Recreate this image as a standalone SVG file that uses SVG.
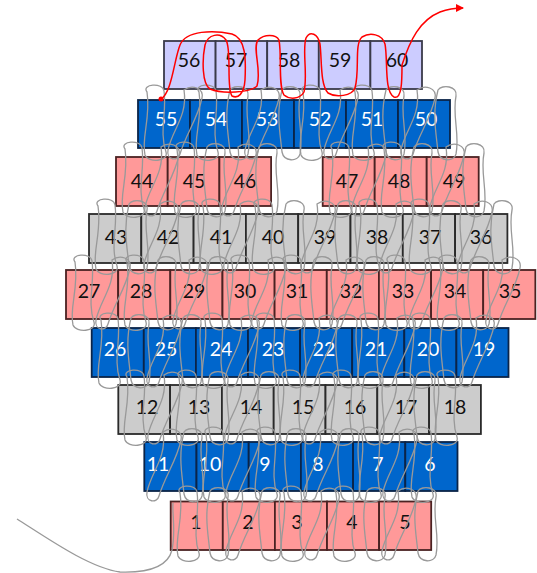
<svg xmlns="http://www.w3.org/2000/svg" xmlns:xlink="http://www.w3.org/1999/xlink" width="537" height="573" viewBox="0 0 537 573">
<style>
.b rect{stroke-width:1.8}
.lav{fill:#ccccff;stroke:#3a3a4a}
.blu{fill:#0066cc;stroke:#0b2448}
.pnk{fill:#ff9999;stroke:#4a2222}
.gry{fill:#cccccc;stroke:#2a2a2a}
text{font-family:Lato,"Open Sans","Liberation Sans",sans-serif;font-size:19.5px;text-anchor:middle}
.dk{fill:#111}
.wt{fill:#ffffff}
.th{fill:none;stroke:#999999;stroke-width:1.3}
.rd{fill:none;stroke:#ff0000;stroke-width:1.5}
</style>
<defs>
<path id="la" d="M-10,-8 C-16,-16 6,-18 7,-9 C10,12 2,32 9,52 C12,62 -9,63 -12,55 C-16,38 -6,18 -10,-8 Z"/>
<path id="lb" d="M-6,-10 C-2,-16 14,-14 12,-4 C8,16 16,34 12,54 C10,62 -4,62 -6,52 C-8,32 -12,14 -6,-10 Z"/>
<path id="lc" d="M-4,-10 C4,-16 16,-12 14,-2 C10,18 -2,34 -8,54 C-10,62 -22,60 -20,50 C-16,30 0,16 -4,-10 Z"/>
<marker id="ah" markerWidth="8" markerHeight="8" refX="7" refY="4" orient="auto" markerUnits="userSpaceOnUse"><path d="M0,0 L8,4 L0,8 Z" fill="#ff0000"/></marker>
</defs>
<g id="row1" class="b">
<g id="b56"><rect class="lav" x="164" y="41" width="51.6" height="48"/><text class="dk" x="189" y="67">56</text></g>
<g id="b57"><rect class="lav" x="215.6" y="41" width="51.6" height="48"/><text class="dk" x="236" y="67">57</text></g>
<g id="b58"><rect class="lav" x="267.2" y="41" width="51.6" height="48"/><text class="dk" x="289" y="67">58</text></g>
<g id="b59"><rect class="lav" x="318.8" y="41" width="51.6" height="48"/><text class="dk" x="340" y="67">59</text></g>
<g id="b60"><rect class="lav" x="370.4" y="41" width="51.6" height="48"/><text class="dk" x="397" y="67">60</text></g>
</g>
<g id="row2" class="b">
<g id="b55"><rect class="blu" x="138" y="100" width="52" height="48"/><text class="wt" x="166" y="126">55</text></g>
<g id="b54"><rect class="blu" x="190" y="100" width="52" height="48"/><text class="wt" x="216" y="126">54</text></g>
<g id="b53"><rect class="blu" x="242" y="100" width="52" height="48"/><text class="wt" x="267" y="126">53</text></g>
<g id="b52"><rect class="blu" x="294" y="100" width="52" height="48"/><text class="wt" x="320" y="126">52</text></g>
<g id="b51"><rect class="blu" x="346" y="100" width="52" height="48"/><text class="wt" x="372" y="126">51</text></g>
<g id="b50"><rect class="blu" x="398" y="100" width="52" height="48"/><text class="wt" x="426" y="126">50</text></g>
</g>
<g id="row3" class="b">
<g id="b44"><rect class="pnk" x="116" y="157" width="51.7" height="49"/><text class="dk" x="142" y="188">44</text></g>
<g id="b45"><rect class="pnk" x="167.7" y="157" width="51.7" height="49"/><text class="dk" x="194" y="188">45</text></g>
<g id="b46"><rect class="pnk" x="219.4" y="157" width="51.7" height="49"/><text class="dk" x="245" y="188">46</text></g>
<g id="b47"><rect class="pnk" x="322.7" y="157" width="52" height="49"/><text class="dk" x="347" y="188">47</text></g>
<g id="b48"><rect class="pnk" x="374.7" y="157" width="52" height="49"/><text class="dk" x="399" y="188">48</text></g>
<g id="b49"><rect class="pnk" x="426.7" y="157" width="52" height="49"/><text class="dk" x="454" y="188">49</text></g>
</g>
<g id="row4" class="b">
<g id="b43"><rect class="gry" x="89" y="214" width="52.3" height="49"/><text class="dk" x="116" y="244">43</text></g>
<g id="b42"><rect class="gry" x="141.3" y="214" width="52.3" height="49"/><text class="dk" x="168" y="244">42</text></g>
<g id="b41"><rect class="gry" x="193.6" y="214" width="52.3" height="49"/><text class="dk" x="221" y="244">41</text></g>
<g id="b40"><rect class="gry" x="245.9" y="214" width="52.3" height="49"/><text class="dk" x="273" y="244">40</text></g>
<g id="b39"><rect class="gry" x="298.2" y="214" width="52.3" height="49"/><text class="dk" x="325" y="244">39</text></g>
<g id="b38"><rect class="gry" x="350.5" y="214" width="52.3" height="49"/><text class="dk" x="377" y="244">38</text></g>
<g id="b37"><rect class="gry" x="402.8" y="214" width="52.3" height="49"/><text class="dk" x="430" y="244">37</text></g>
<g id="b36"><rect class="gry" x="455.1" y="214" width="52.3" height="49"/><text class="dk" x="481" y="244">36</text></g>
</g>
<g id="row5" class="b">
<g id="b27"><rect class="pnk" x="66" y="270" width="52.15" height="49"/><text class="dk" x="89" y="298">27</text></g>
<g id="b28"><rect class="pnk" x="118.2" y="270" width="52.15" height="49"/><text class="dk" x="141" y="298">28</text></g>
<g id="b29"><rect class="pnk" x="170.3" y="270" width="52.15" height="49"/><text class="dk" x="194" y="298">29</text></g>
<g id="b30"><rect class="pnk" x="222.5" y="270" width="52.15" height="49"/><text class="dk" x="245" y="298">30</text></g>
<g id="b31"><rect class="pnk" x="274.6" y="270" width="52.15" height="49"/><text class="dk" x="297" y="298">31</text></g>
<g id="b32"><rect class="pnk" x="326.8" y="270" width="52.15" height="49"/><text class="dk" x="351" y="298">32</text></g>
<g id="b33"><rect class="pnk" x="378.9" y="270" width="52.15" height="49"/><text class="dk" x="403" y="298">33</text></g>
<g id="b34"><rect class="pnk" x="431.1" y="270" width="52.15" height="49"/><text class="dk" x="455" y="298">34</text></g>
<g id="b35"><rect class="pnk" x="483.2" y="270" width="52.15" height="49"/><text class="dk" x="510" y="298">35</text></g>
</g>
<g id="row6" class="b">
<g id="b26"><rect class="blu" x="91.7" y="328" width="52.1" height="49"/><text class="wt" x="115" y="356">26</text></g>
<g id="b25"><rect class="blu" x="143.8" y="328" width="52.1" height="49"/><text class="wt" x="166" y="356">25</text></g>
<g id="b24"><rect class="blu" x="195.9" y="328" width="52.1" height="49"/><text class="wt" x="221" y="356">24</text></g>
<g id="b23"><rect class="blu" x="248" y="328" width="52.1" height="49"/><text class="wt" x="273" y="356">23</text></g>
<g id="b22"><rect class="blu" x="300.1" y="328" width="52.1" height="49"/><text class="wt" x="324" y="356">22</text></g>
<g id="b21"><rect class="blu" x="352.2" y="328" width="52.1" height="49"/><text class="wt" x="376" y="356">21</text></g>
<g id="b20"><rect class="blu" x="404.3" y="328" width="52.1" height="49"/><text class="wt" x="428" y="356">20</text></g>
<g id="b19"><rect class="blu" x="456.4" y="328" width="52.1" height="49"/><text class="wt" x="484" y="356">19</text></g>
</g>
<g id="row7" class="b">
<g id="b12"><rect class="gry" x="118.3" y="385" width="51.8" height="49"/><text class="dk" x="147" y="414">12</text></g>
<g id="b13"><rect class="gry" x="170.1" y="385" width="51.8" height="49"/><text class="dk" x="199" y="414">13</text></g>
<g id="b14"><rect class="gry" x="221.9" y="385" width="51.8" height="49"/><text class="dk" x="251" y="414">14</text></g>
<g id="b15"><rect class="gry" x="273.7" y="385" width="51.8" height="49"/><text class="dk" x="303" y="414">15</text></g>
<g id="b16"><rect class="gry" x="325.5" y="385" width="51.8" height="49"/><text class="dk" x="355" y="414">16</text></g>
<g id="b17"><rect class="gry" x="377.3" y="385" width="51.8" height="49"/><text class="dk" x="406" y="414">17</text></g>
<g id="b18"><rect class="gry" x="429.1" y="385" width="51.8" height="49"/><text class="dk" x="455" y="414">18</text></g>
</g>
<g id="row8" class="b">
<g id="b11"><rect class="blu" x="144.3" y="442" width="52.2" height="49"/><text class="wt" x="158" y="471">11</text></g>
<g id="b10"><rect class="blu" x="196.5" y="442" width="52.2" height="49"/><text class="wt" x="210" y="471">10</text></g>
<g id="b9"><rect class="blu" x="248.7" y="442" width="52.2" height="49"/><text class="wt" x="265" y="471">9</text></g>
<g id="b8"><rect class="blu" x="300.9" y="442" width="52.2" height="49"/><text class="wt" x="318" y="471">8</text></g>
<g id="b7"><rect class="blu" x="353.1" y="442" width="52.2" height="49"/><text class="wt" x="378" y="471">7</text></g>
<g id="b6"><rect class="blu" x="405.3" y="442" width="52.2" height="49"/><text class="wt" x="430" y="471">6</text></g>
</g>
<g id="row9" class="b">
<g id="b1"><rect class="pnk" x="170.7" y="501.5" width="52.1" height="48.5"/><text class="dk" x="196" y="529">1</text></g>
<g id="b2"><rect class="pnk" x="222.8" y="501.5" width="52.1" height="48.5"/><text class="dk" x="248" y="529">2</text></g>
<g id="b3"><rect class="pnk" x="274.9" y="501.5" width="52.1" height="48.5"/><text class="dk" x="297" y="529">3</text></g>
<g id="b4"><rect class="pnk" x="327" y="501.5" width="52.1" height="48.5"/><text class="dk" x="352" y="529">4</text></g>
<g id="b5"><rect class="pnk" x="379.1" y="501.5" width="52.1" height="48.5"/><text class="dk" x="405" y="529">5</text></g>
</g>
<g id="connectors">
<g class="th">
<path d="M17,519 C50,540 90,568 120,572 C150,573 168,566 172,550 C176,530 172,515 173,503"/>
<use href="#la" x="157" y="100"/><use href="#lc" x="188" y="100"/><use href="#la" x="209" y="100"/><use href="#lb" x="236" y="100"/><use href="#lc" x="265" y="100"/><use href="#lb" x="288" y="100"/><use href="#la" x="313" y="100"/><use href="#lc" x="344" y="100"/><use href="#la" x="365" y="100"/><use href="#lb" x="392" y="100"/><use href="#lc" x="421" y="100"/><use href="#lb" x="444" y="100"/>
<use href="#la" x="135" y="157"/><use href="#lc" x="165" y="157"/><use href="#la" x="187" y="157"/><use href="#lb" x="213" y="157"/><use href="#lc" x="242" y="157"/><use href="#lb" x="265" y="157"/><use href="#la" x="342" y="157"/><use href="#lc" x="372" y="157"/><use href="#la" x="394" y="157"/><use href="#lb" x="420" y="157"/><use href="#lc" x="450" y="157"/><use href="#lb" x="472" y="157"/>
<use href="#la" x="108" y="214"/><use href="#lb" x="135" y="214"/><use href="#lc" x="164" y="214"/><use href="#lb" x="187" y="214"/><use href="#la" x="213" y="214"/><use href="#lc" x="244" y="214"/><use href="#la" x="265" y="214"/><use href="#lb" x="292" y="214"/><use href="#lc" x="321" y="214"/><use href="#lb" x="344" y="214"/><use href="#la" x="370" y="214"/><use href="#lc" x="400" y="214"/><use href="#la" x="422" y="214"/><use href="#lb" x="449" y="214"/><use href="#lc" x="478" y="214"/><use href="#lb" x="500" y="214"/>
<use href="#la" x="85" y="270"/><use href="#lc" x="116" y="270"/><use href="#la" x="137" y="270"/><use href="#lb" x="164" y="270"/><use href="#lc" x="193" y="270"/><use href="#lb" x="216" y="270"/><use href="#la" x="242" y="270"/><use href="#lc" x="272" y="270"/><use href="#la" x="294" y="270"/><use href="#lb" x="320" y="270"/><use href="#lc" x="350" y="270"/><use href="#lb" x="372" y="270"/><use href="#la" x="398" y="270"/><use href="#lc" x="429" y="270"/><use href="#la" x="450" y="270"/><use href="#lb" x="477" y="270"/><use href="#lc" x="506" y="270"/>
<use href="#la" x="111" y="328"/><use href="#lb" x="137" y="328"/><use href="#lc" x="167" y="328"/><use href="#lb" x="189" y="328"/><use href="#la" x="215" y="328"/><use href="#lc" x="245" y="328"/><use href="#la" x="267" y="328"/><use href="#lb" x="293" y="328"/><use href="#lc" x="323" y="328"/><use href="#lb" x="345" y="328"/><use href="#la" x="371" y="328"/><use href="#lc" x="401" y="328"/><use href="#la" x="423" y="328"/><use href="#lb" x="450" y="328"/><use href="#lc" x="480" y="328"/>
<use href="#la" x="137" y="385"/><use href="#lc" x="168" y="385"/><use href="#la" x="189" y="385"/><use href="#lb" x="216" y="385"/><use href="#lc" x="245" y="385"/><use href="#lb" x="267" y="385"/><use href="#la" x="293" y="385"/><use href="#lc" x="323" y="385"/><use href="#la" x="344" y="385"/><use href="#lb" x="371" y="385"/><use href="#lc" x="400" y="385"/><use href="#lb" x="423" y="385"/><use href="#la" x="448" y="385"/>
<use href="#lc" x="167" y="442"/><use href="#lb" x="190" y="442"/><use href="#la" x="216" y="442"/><use href="#lc" x="246" y="442"/><use href="#la" x="268" y="442"/><use href="#lb" x="294" y="442"/><use href="#lc" x="324" y="442"/><use href="#lb" x="347" y="442"/><use href="#la" x="372" y="442"/><use href="#lc" x="403" y="442"/><use href="#la" x="424" y="442"/>
<use href="#la" x="190" y="501"/><use href="#lb" x="216" y="501"/><use href="#lc" x="246" y="501"/><use href="#lb" x="268" y="501"/><use href="#la" x="294" y="501"/><use href="#lc" x="325" y="501"/><use href="#la" x="346" y="501"/><use href="#lb" x="373" y="501"/><use href="#lc" x="402" y="501"/><use href="#lb" x="424" y="501"/>
</g>
<circle cx="161" cy="99" r="2.5" fill="#ff0000"/>
<path class="rd" marker-end="url(#ah)" d="M161,99 C172,92 174,60 180,45 C186,30 214,30 232,34 C246,38 246,60 245,80 C244,94 238,99 232,96 C226,88 232,50 226,40 C220,32 208,34 205,45 C202,60 202,84 210,89 C222,94 250,93 257,86 C262,70 252,48 258,40 C264,34 276,34 279,40 C282,56 278,86 284,95 C290,100 300,99 304,92 C308,75 302,50 306,38 C310,30 318,34 320,44 C322,60 320,84 328,93 C336,98 352,96 355,88 C360,70 354,44 362,37 C370,32 382,34 385,44 C388,60 384,92 394,97 C402,100 402,80 402,65 C410,40 420,20 440,12 C448,9 456,8 463,8"/>
</g>
</svg>
